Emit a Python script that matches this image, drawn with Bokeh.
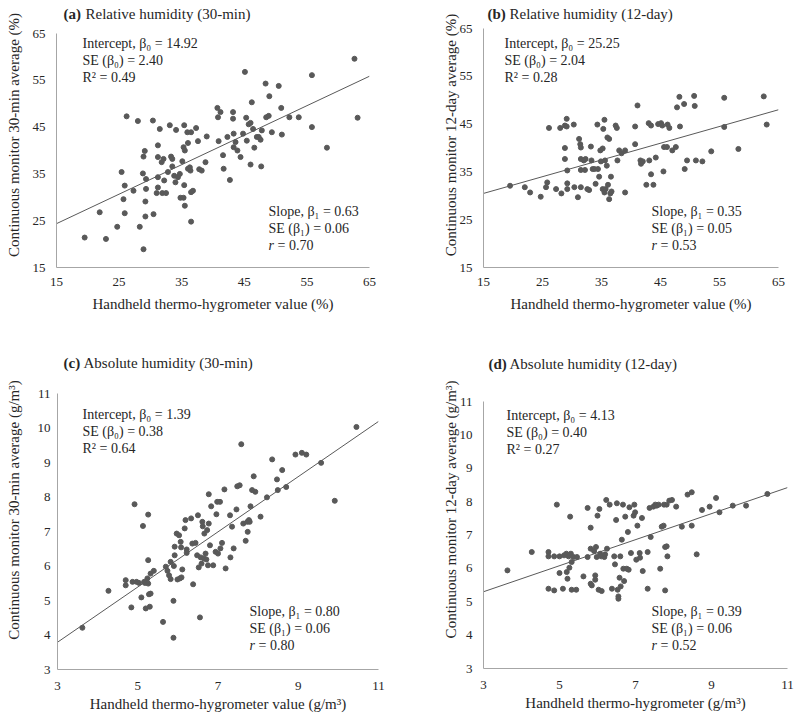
from bokeh.plotting import figure
from bokeh.models import Range1d, Label, FixedTicker
from bokeh.layouts import column, row
from bokeh.embed import file_html
from bokeh.resources import INLINE

# ---------------- data ----------------
a_x = [19.5,21.9,22.9,24.7,25.4,25.9,25.7,25.9,26.2,27.3,
       28.0,28.3,28.8,28.9,29.1,28.9,29.2,29.3,29.3,29.2,
       30.4,30.5,31.2,31.2,31.2,31.2,31.0,31.5,31.8,31.9,
       32.1,32.2,32.5,32.8,33.1,33.3,33.5,33.5,33.8,34.0,
       34.1,34.4,34.7,34.8,35.1,35.3,35.3,35.4,35.4,35.5,
       35.5,35.9,36.0,36.0,36.3,36.4,36.5,36.5,36.5,36.8,
       37.3,37.6,37.8,38.2,38.8,39.0,40.7,40.8,40.9,41.2,
       41.6,41.7,42.3,42.7,43.2,43.2,43.3,43.3,43.6,43.9,
       44.4,44.8,45.1,45.3,45.4,45.7,46.0,46.0,46.2,46.4,
       46.6,47.0,47.3,47.6,47.7,47.8,48.4,48.5,48.9,49.0,
       49.4,50.5,50.9,51.0,52.2,53.7,55.8,55.8,58.2,62.6,
       63.1]
a_y = [21.4,26.8,21.1,23.7,35.4,32.5,29.6,26.6,47.3,31.4,
       46.3,23.7,35.1,38.7,39.9,18.9,29.1,33.9,31.8,25.9,
       46.4,26.4,41.1,38.6,34.3,32.1,30.9,44.6,37.5,30.9,
       38.2,33.6,30.9,35.4,45.4,38.7,38.2,36.6,34.6,33.2,
       44.4,34.3,35.0,29.9,37.7,29.9,40.7,45.4,32.6,28.2,
       40.0,43.9,41.6,36.1,36.4,35.7,43.9,31.1,24.8,31.4,
       44.8,42.0,36.0,35.7,37.5,43.0,49.1,47.1,42.0,48.2,
       39.0,36.1,42.9,33.7,48.2,46.8,43.6,40.7,41.8,40.0,
       38.6,43.6,56.8,47.0,42.1,45.6,45.9,37.0,50.3,44.6,
       40.6,42.9,42.9,42.3,36.6,44.3,54.3,47.1,47.4,51.6,
       43.9,53.8,49.1,43.4,47.1,47.1,56.1,45.0,40.6,59.6,
       47.0]

b_x = [19.5,22.0,22.9,24.7,25.6,25.8,26.1,27.3,28.0,28.2,
       28.8,28.8,28.8,29.1,29.1,29.2,29.2,29.2,30.3,30.4,
       31.0,31.2,31.4,31.5,31.5,31.5,31.5,32.0,32.2,32.3,
       32.6,32.9,33.2,33.3,33.5,33.8,34.0,34.3,34.4,34.6,
       34.8,34.9,35.2,35.2,35.3,35.5,35.5,35.6,35.7,35.9,
       36.0,36.1,36.3,36.3,36.5,36.6,36.7,37.4,37.6,37.7,
       38.0,38.4,39.0,39.0,40.7,40.7,41.1,41.6,41.7,42.0,
       42.6,43.0,43.1,43.4,43.4,43.8,44.2,44.6,45.1,45.3,
       45.5,45.6,46.1,46.2,46.5,47.0,47.6,47.8,48.2,48.3,
       49.0,49.1,49.5,50.7,50.8,51.0,52.1,53.6,55.8,55.8,
       58.2,62.5,63.0]
b_y = [32.1,31.8,30.7,29.8,31.8,32.8,44.2,31.4,44.2,30.5,
       44.7,40.0,37.7,46.1,44.5,35.3,32.6,31.4,44.9,31.8,
       29.7,41.9,40.8,40.1,37.7,35.4,31.8,37.4,35.4,37.7,
       31.4,31.2,40.3,37.4,35.6,35.6,32.5,44.9,35.6,34.0,
       39.5,37.2,39.9,31.4,44.0,45.9,30.7,37.4,31.4,36.3,
       42.2,32.3,29.3,41.9,30.5,34.0,30.9,44.7,44.2,37.4,
       39.5,38.9,39.5,30.7,44.5,40.8,48.9,37.4,36.7,37.2,
       32.3,45.2,37.4,44.7,34.5,32.3,38.0,45.0,45.2,44.7,
       35.1,40.2,40.2,44.9,44.2,39.5,40.2,48.5,50.7,44.5,
       49.2,35.6,37.4,50.9,48.8,37.4,37.2,39.3,50.5,44.4,
       39.8,50.8,44.9]

c_x = [3.62,4.27,4.70,4.70,4.84,4.87,4.92,4.97,5.03,5.09,
       5.13,5.16,5.18,5.20,5.24,5.26,5.26,5.26,5.28,5.30,
       5.32,5.32,5.40,5.63,5.70,5.74,5.78,5.82,5.82,5.89,
       5.89,5.90,5.92,5.92,5.97,5.99,6.03,6.05,6.07,6.08,
       6.09,6.11,6.17,6.19,6.22,6.22,6.33,6.36,6.38,6.44,
       6.48,6.50,6.52,6.55,6.57,6.59,6.61,6.62,6.65,6.66,
       6.69,6.71,6.73,6.75,6.77,6.77,6.80,6.83,6.88,6.94,
       6.96,6.98,7.00,7.05,7.06,7.10,7.16,7.19,7.30,7.31,
       7.35,7.39,7.46,7.48,7.54,7.58,7.63,7.69,7.73,7.74,
       7.77,7.79,7.81,7.85,7.89,7.93,8.06,8.22,8.35,8.47,
       8.49,8.60,8.70,8.93,9.09,9.20,9.57,9.91,10.45]
c_y = [4.21,5.28,5.59,5.44,4.80,5.54,7.79,5.54,5.51,5.09,
       7.16,5.54,5.51,4.77,5.64,5.49,7.49,6.17,5.18,4.82,
       5.20,5.78,5.86,4.38,5.98,5.86,5.73,5.62,6.12,4.99,
       3.92,6.00,6.31,6.56,6.94,5.61,6.89,5.64,6.70,6.54,
       5.67,5.90,7.09,7.33,6.48,6.38,7.38,6.65,5.47,6.67,
       6.31,7.47,5.96,4.51,6.25,6.07,7.28,7.15,6.22,6.94,
       6.36,6.19,7.04,6.02,7.23,8.08,6.60,7.73,6.02,6.41,
       7.50,7.86,6.36,7.86,6.51,6.67,8.22,5.93,7.47,6.25,
       7.14,6.51,7.64,8.31,8.34,9.53,7.23,6.73,7.28,6.99,
       7.33,7.28,7.73,8.20,8.60,8.15,7.43,7.99,9.09,8.51,
       8.20,8.78,8.29,9.23,9.28,9.23,8.99,7.89,10.03]

d_x = [3.63,4.27,4.71,4.71,4.71,4.86,4.86,4.93,5.00,5.00,
       5.09,5.12,5.18,5.19,5.21,5.24,5.26,5.28,5.30,5.32,
       5.32,5.37,5.44,5.46,5.63,5.74,5.74,5.82,5.82,5.82,
       5.85,5.91,5.94,5.94,5.96,5.98,6.00,6.03,6.05,6.07,
       6.10,6.11,6.18,6.20,6.23,6.25,6.32,6.38,6.44,6.46,
       6.49,6.51,6.53,6.55,6.55,6.58,6.60,6.61,6.64,6.67,
       6.68,6.70,6.73,6.77,6.80,6.82,6.84,6.88,6.95,6.97,
       6.99,7.02,7.05,7.11,7.12,7.17,7.19,7.32,7.32,7.37,
       7.40,7.47,7.52,7.56,7.61,7.65,7.69,7.74,7.75,7.78,
       7.78,7.82,7.82,7.84,7.89,7.96,8.07,8.22,8.37,8.48,
       8.48,8.61,8.75,8.95,9.12,9.21,9.56,9.91,10.47]
d_y = [5.94,6.49,6.49,6.36,5.39,6.36,5.34,7.91,6.36,5.86,
       5.39,6.39,6.44,5.89,5.69,6.36,6.02,7.55,6.44,6.19,
       5.36,6.34,5.36,6.34,5.76,6.34,7.81,7.22,6.59,5.54,
       5.49,6.52,5.66,5.79,6.64,6.34,7.58,5.36,7.78,6.44,
       6.36,5.32,6.34,6.42,8.05,6.59,7.91,5.39,6.36,6.12,
       7.45,7.95,5.36,5.16,5.09,5.72,6.36,5.46,6.86,7.91,
       5.99,5.62,7.55,5.99,7.09,5.96,7.83,6.46,7.58,7.91,
       7.68,6.26,7.28,6.46,6.32,7.51,5.92,6.49,5.39,7.81,
       6.94,7.85,7.91,7.88,7.91,5.99,7.25,7.28,7.91,6.64,
       5.34,7.91,6.66,6.36,8.03,8.05,7.85,7.25,8.21,8.28,
       7.28,6.42,7.75,7.85,8.11,7.68,7.88,7.88,8.23]

# regression coefficients (intercept, slope) as printed
a_fit = (14.92, 0.63)
b_fit = (25.25, 0.35)
c_fit = (1.39, 0.80)
d_fit = (4.13, 0.39)

rh_ticks = [15, 25, 35, 45, 55, 65]
ah_y_ticks = [3, 4, 5, 6, 7, 8, 9, 10, 11]
ah_x_ticks = [3, 5, 7, 9, 11]

a_stats_top = ["Intercept, \u03b2\u2080 = 14.92", "SE (\u03b2\u2080) = 2.40", "R\u00b2 = 0.49"]
a_stats_bot = ["Slope, \u03b2\u2081 = 0.63", "SE (\u03b2\u2081) = 0.06", "= 0.70"]
b_stats_top = ["Intercept, \u03b2\u2080 = 25.25", "SE (\u03b2\u2080) = 2.04", "R\u00b2 = 0.28"]
b_stats_bot = ["Slope, \u03b2\u2081 = 0.35", "SE (\u03b2\u2081) = 0.05", "= 0.53"]
c_stats_top = ["Intercept, \u03b2\u2080 = 1.39", "SE (\u03b2\u2080) = 0.38", "R\u00b2 = 0.64"]
c_stats_bot = ["Slope, \u03b2\u2081 = 0.80", "SE (\u03b2\u2081) = 0.06", "= 0.80"]
d_stats_top = ["Intercept, \u03b2\u2080 = 4.13", "SE (\u03b2\u2080) = 0.40", "R\u00b2 = 0.27"]
d_stats_bot = ["Slope, \u03b2\u2081 = 0.39", "SE (\u03b2\u2081) = 0.06", "= 0.52"]

FONT = "Liberation Serif"
TXT = "#262626"
PT = "#595959"
AX = "#a6a6a6"


def panel(xs, ys, fit, xr, yr, xticks, yticks, tag, title, xlabel, ylabel, top, bot,
          axis_w, axis_h, extra_top, borders, xstand, ystand, title_off, top_off, bot_off,
          line_gap=17):
    # frame extends above the axis top by extra_top px to hold the panel heading
    bl, br, bt, bb = borders
    y_end = yr[1] + extra_top * (yr[1] - yr[0]) / axis_h
    p = figure(frame_width=axis_w, frame_height=axis_h + extra_top, output_backend="svg",
               toolbar_location=None, title=None,
               x_range=Range1d(*xr), y_range=Range1d(yr[0], y_end),
               min_border_left=bl, min_border_right=br,
               min_border_top=bt, min_border_bottom=bb)
    p.outline_line_color = None
    p.grid.visible = False
    for ax, ticks, lab, rng in ((p.xaxis[0], xticks, xlabel, xr),
                                (p.yaxis[0], yticks, ylabel, yr)):
        ax.ticker = FixedTicker(ticks=ticks)
        ax.bounds = rng
        ax.axis_line_color = AX
        ax.axis_line_width = 1
        ax.major_tick_line_color = None
        ax.minor_tick_line_color = None
        ax.major_tick_out = 0
        ax.major_tick_in = 0
        ax.minor_tick_out = 0
        ax.minor_tick_in = 0
        ax.major_label_text_font = FONT
        ax.major_label_text_font_size = "13px"
        ax.major_label_text_color = TXT
        ax.axis_label = lab
        ax.axis_label_text_font = FONT
        ax.axis_label_text_font_size = "15px"
        ax.axis_label_text_font_style = "normal"
        ax.axis_label_text_color = TXT
    p.xaxis.major_label_standoff = xstand[0]
    p.xaxis.axis_label_standoff = xstand[1]
    p.yaxis.major_label_standoff = ystand[0]
    p.yaxis.axis_label_standoff = ystand[1]

    # regression line across the full axis range
    lx = [xr[0], xr[1]]
    ly = [fit[0] + fit[1] * v for v in lx]
    p.line(lx, ly, line_color=PT, line_width=1)
    p.scatter(xs, ys, size=5, fill_color=PT, line_color=PT)

    def lab(text, dx, dy, style="normal", size="14px"):
        p.add_layout(Label(x=xr[0], y=yr[1], x_offset=dx, y_offset=-dy, text=text,
                           text_font=FONT, text_font_size=size, text_font_style=style,
                           text_color=TXT, text_baseline="middle", text_align="left"))

    # heading: bold tag + regular text
    hx, hx2, hy = title_off
    lab(tag, hx, -hy, "bold", "15px")
    lab(title, hx2, -hy, "normal", "15px")

    tx, ty = top_off
    for i, t in enumerate(top):
        lab(t, tx, ty + i * line_gap)
    bx, by = bot_off
    lab(bot[0], bx, by)
    lab(bot[1], bx, by + line_gap)
    lab("r", bx, by + 2 * line_gap, "italic")
    lab(bot[2], bx + 9, by + 2 * line_gap)
    return p


pa = panel(a_x, a_y, a_fit, (15, 65), (15, 65), rh_ticks, rh_ticks,
           "(a)", "Relative humidity (30-min)",
           "Handheld thermo-hygrometer value (%)",
           "Continuous monitor 30-min average (%)",
           a_stats_top, a_stats_bot, 313, 234, 31, (56, 44, 2, 78),
           (10, 7), (11, 8), (7, 29, 20), (26, 10), (212, 178))
pb = panel(b_x, b_y, b_fit, (15, 65), (15, 65), rh_ticks, rh_ticks,
           "(b)", "Relative humidity (12-day)",
           "Handheld thermo-hygrometer value (%)",
           "Continuous monitor 12-day average (%)",
           b_stats_top, b_stats_bot, 295, 239, 26, (70, 18, 2, 78),
           (10, 7), (11, -2), (4, 26, 15), (21, 15), (168, 183))
pc = panel(c_x, c_y, c_fit, (3, 11), (3, 11), ah_x_ticks, ah_y_ticks,
           "(c)", "Absolute humidity (30-min)",
           "Handheld thermo-hygrometer value (g/m\u00b3)",
           "Continuous monitor 30-min average (g/m\u00b3)",
           c_stats_top, c_stats_bot, 321, 276, 43, (57, 35, 5, 51),
           (12, 3), (7, 13), (6, 26, 31), (25, 21), (192, 218))
pd_ = panel(d_x, d_y, d_fit, (3, 11), (3, 11), ah_x_ticks, ah_y_ticks,
            "(d)", "Absolute humidity (12-day)",
            "Handheld thermo-hygrometer (g/m\u00b3)",
            "Continuous monitor 12-day average (g/m\u00b3)",
            d_stats_top, d_stats_bot, 304, 267, 51, (70, 9, 5, 52),
            (12, 3), (11, -2), (5, 26, 38), (23, 14), (168, 210))

layout = column(row(pa, pb), row(pc, pd_))
open("out.html", "w").write(file_html(layout, INLINE))
